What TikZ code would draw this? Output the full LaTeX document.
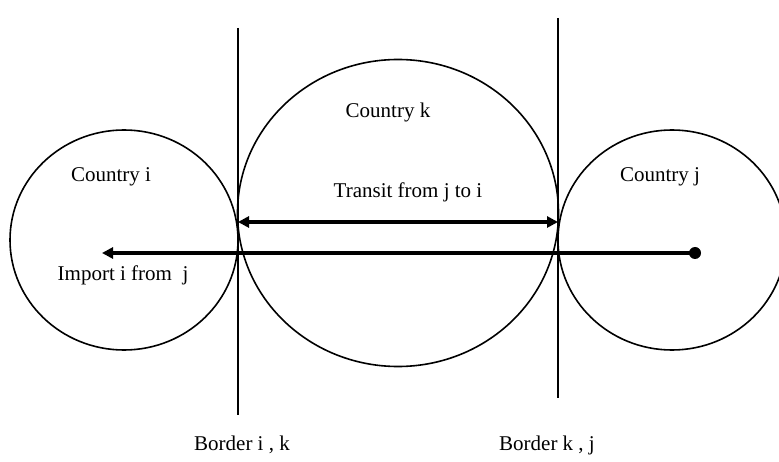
\documentclass[tikz,border=0pt]{standalone}
\usepackage{fontspec}
\setmainfont{Liberation Serif}
\usetikzlibrary{arrows.meta,shapes.geometric}
\begin{document}
\begin{tikzpicture}[x=1pt,y=-1pt,
  country/.style={draw,ellipse,line width=1.6pt,inner sep=0pt},
  border/.style={draw,line width=1.3pt},
  flow/.style={line width=3.5pt,-{Triangle[length=11pt,width=11pt]}},
  label/.style={font=\fontsize{21}{25}\selectfont,inner sep=0pt}]
\useasboundingbox (0,0) rectangle (779,462);
\node[country,minimum width=228pt,minimum height=220pt] (ci) at (124,240) {};
\node[country,minimum width=321pt,minimum height=307pt] (ck) at (398,213) {};
\node[country,minimum width=228pt,minimum height=220pt] (cj) at (672,240) {};
\coordinate (b1t) at (238,28);
\coordinate (b1b) at (238,415);
\coordinate (b2t) at (558,18);
\coordinate (b2b) at (558,398);
\draw[border] (b1t) -- (b1b);
\draw[border] (b2t) -- (b2b);
\coordinate (tl) at (238,222);
\coordinate (tr) at (558,222);
\draw[line width=3.5pt,{Triangle[length=11pt,width=11pt]}-{Triangle[length=11pt,width=11pt]}] (tl) -- (tr);
\node[fill,circle,minimum size=12pt,inner sep=0pt] (dot) at (695,253) {};
\coordinate (imp) at (102,253);
\draw[flow] (dot.center) -- (imp);
\node[label] (li) at (111,177) {Country i};
\node[label] (lim) at (123,275) {Import i from\ \ j};
\node[label] (lk) at (388,112) {Country k};
\node[label] (lt) at (408,192) {Transit from j to i};
\node[label] (lj) at (660,177) {Country j};
\node[label] (bik) at (242,445) {Border i , k};
\node[label] (bkj) at (547,445) {Border k , j};
\end{tikzpicture}
\end{document}
